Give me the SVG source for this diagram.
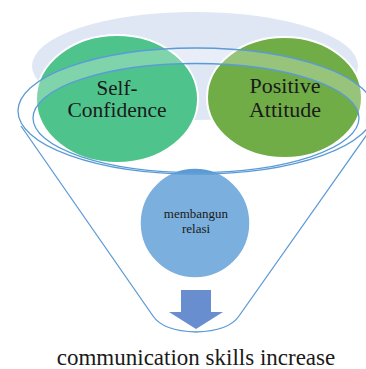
<svg xmlns="http://www.w3.org/2000/svg" width="366" height="369" viewBox="0 0 366 369">
  <style>
    .lbl { fill: #1a1a1a; text-anchor: middle; }
    .rim { fill: none; stroke: #5b9bd5; stroke-width: 1.3; }
  </style>
  <defs>
    <mask id="bodyMask">
      <rect x="0" y="0" width="366" height="369" fill="white"/>
      <ellipse cx="196" cy="111" rx="178" ry="63" fill="black"/>
    </mask>
  </defs>
  <rect width="366" height="369" fill="#ffffff"/>

  <g id="background">
    <ellipse cx="195" cy="66" rx="163" ry="54" fill="#dfe7f4"/>
  </g>

  <g id="self-confidence">
    <ellipse cx="117" cy="99" rx="81" ry="64" fill="#4ec48c" stroke="#ffffff" stroke-width="2"/>
  </g>
  <g id="positive-attitude">
    <ellipse cx="284.5" cy="97.5" rx="77.5" ry="60.5" fill="#70ad47" stroke="#ffffff" stroke-width="2"/>
  </g>
  <g id="membangun-relasi">
    <circle cx="195" cy="223" r="55" fill="#5b9bd5" stroke="#ffffff" stroke-width="1.5"/>
  </g>
  <g id="arrow">
    <polygon points="181,290 211,290 211,312 223,312 196,329 169,312 181,312" fill="#4472c4"/>
  </g>

  <g id="funnel">
    <path d="M196,48 a178,63 0 1,0 0.01,0 Z M196,63.5 a163,54.5 0 1,0 0.01,0 Z" fill="#ffffff" fill-opacity="0.28" fill-rule="evenodd"/>
    <path d="M21,126 L153,316 Q163,331 196,332 Q229,331 239,316 L373,126 Z" fill="#ffffff" fill-opacity="0.2" mask="url(#bodyMask)"/>
    <ellipse class="rim" cx="196" cy="111" rx="178" ry="63"/>
    <ellipse class="rim" cx="196" cy="118" rx="163" ry="54.5"/>
    <path class="rim" d="M21,126 L153,316 Q163,331 196,332 Q229,331 239,316 L373,126"/>
  </g>

  <g id="labels" font-family="'Liberation Serif', 'Times New Roman', 'DejaVu Serif', serif">
    <text class="lbl" x="117" y="94.5" font-size="21">Self-</text>
    <text class="lbl" x="117" y="117" font-size="21.5">Confidence</text>
    <text class="lbl" x="285" y="93" font-size="22">Positive</text>
    <text class="lbl" x="285" y="117" font-size="22">Attitude</text>
    <text class="lbl" x="196" y="218" font-size="13">membangun</text>
    <text class="lbl" x="196" y="233" font-size="13">relasi</text>
    <text class="lbl" x="196" y="365" font-size="23">communication skills increase</text>
  </g>
</svg>
